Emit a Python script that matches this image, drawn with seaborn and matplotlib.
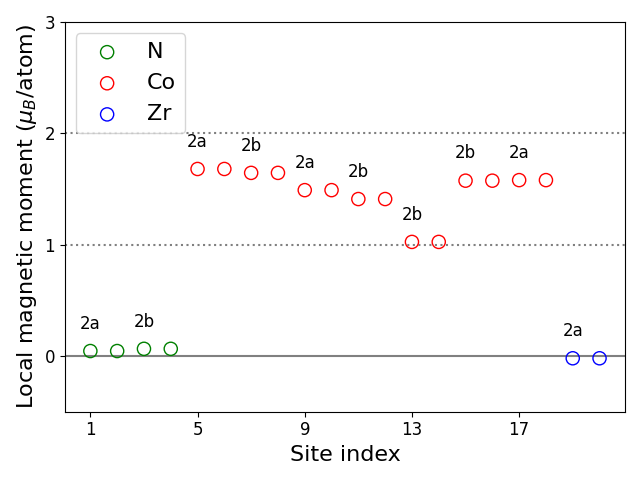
import matplotlib
matplotlib.use("Agg")
import seaborn as sns
import matplotlib.pyplot as plt


#%% Data
Sites_N  = [1, 2, 3, 4]
Mom_N    = [0.045, 0.045, 0.065, 0.065]

Sites_Co = [5, 6, 7, 8, 9, 10, 11, 12, 13, 14, 15, 16, 17, 18]
Mom_Co   = [1.68, 1.68, 1.645, 1.645, 1.49, 1.49, 1.41, 1.41,
            1.025, 1.025, 1.575, 1.575, 1.58, 1.58]

Sites_Zr = [19, 20]
Mom_Zr   = [-0.02, -0.02]

# Wyckoff labels (site, label)
Label_Sites = [1, 3, 5, 7, 9, 11, 13, 15, 17, 19]
Label_Text  = ["2a", "2b", "2a", "2b", "2a", "2b", "2b", "2b", "2a", "2a"]


#%% Style
FontSize_TickLabel = 12
FontSize_AxisLabel = 16
FontSize_Legend    = 16
FontSize_Annot     = 12
Marker_Size        = 90
Annot_Offset       = 0.2

XTicks = [1, 5, 9, 13, 17]
YTicks = [0, 1, 2, 3]
YLim   = [-0.5, 3]


Fig = plt.figure(figsize=[6.4, 4.8], dpi=100)
ax = plt.gca()

groups = [
    (Sites_N, Mom_N, "green", "N"),
    (Sites_Co, Mom_Co, "red", "Co"),
    (Sites_Zr, Mom_Zr, "blue", "Zr"),
]

all_sites = []
all_moms = []
for sites, moms, col, lab in groups:
    sns.scatterplot(x=sites, y=moms, s=Marker_Size, marker="o",
                    facecolor="none", edgecolor=col, linewidth=1,
                    label=lab, ax=ax)
    all_sites += sites
    all_moms += moms

# reference lines
ax.axhline(0, color="gray", linewidth=1.5, zorder=0)
ax.axhline(1, color="gray", linestyle=":", linewidth=1.5, zorder=0)
ax.axhline(2, color="gray", linestyle=":", linewidth=1.5, zorder=0)

# site labels
lookup = dict(zip(all_sites, all_moms))
for s, t in zip(Label_Sites, Label_Text):
    ax.text(s, lookup[s] + Annot_Offset, t, ha="center", va="baseline",
            fontsize=FontSize_Annot)

# axes
ax.set_xticks(XTicks)
ax.set_yticks(YTicks)
ax.set_ylim(YLim)
ax.tick_params(labelsize=FontSize_TickLabel)
ax.set_xlabel("Site index", fontsize=FontSize_AxisLabel)
ax.set_ylabel(r"Local magnetic moment ($\mu_B$/atom)", fontsize=FontSize_AxisLabel)

ax.legend(loc="upper left", fontsize=FontSize_Legend)

plt.tight_layout()
plt.savefig("out.png", dpi=100)
